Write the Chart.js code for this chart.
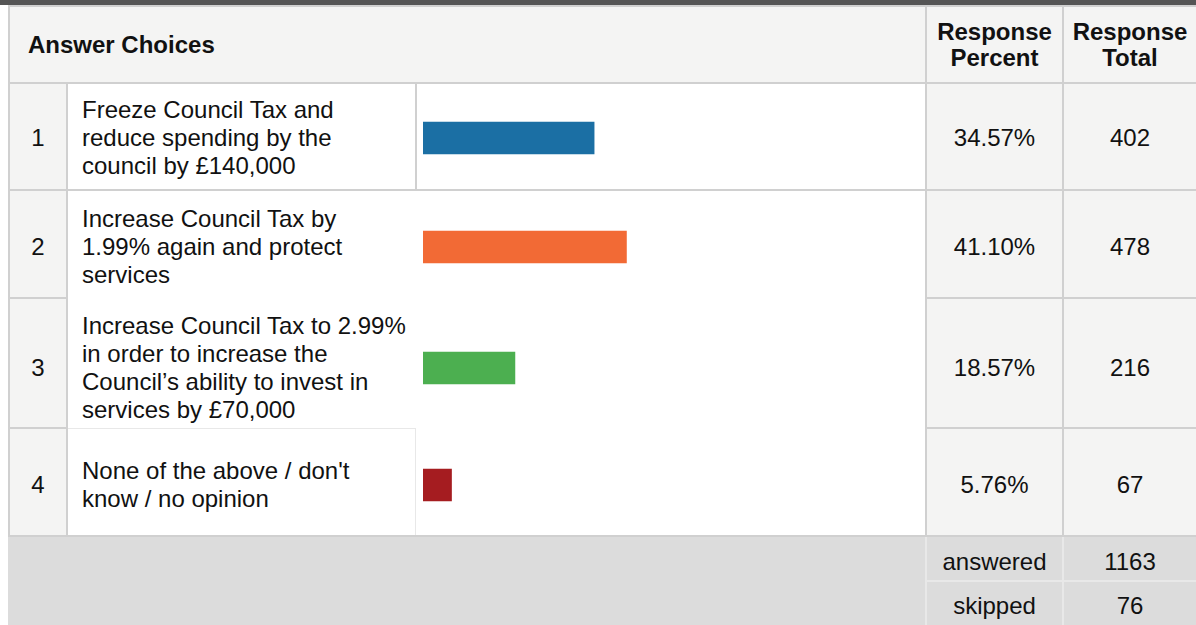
<!DOCTYPE html>
<html>
<head>
<meta charset="utf-8">
<script src="https://cdn.jsdelivr.net/npm/chart.js@4"></script>
<style>
  html,body{margin:0;padding:0;background:#fff;}
  #wrap{position:relative;width:1196px;height:625px;overflow:hidden;font-family:"Liberation Sans",Arial,Helvetica,sans-serif;color:#111;}
  .abs{position:absolute;}
  .cell{position:absolute;display:flex;align-items:center;box-sizing:border-box;}
  .ctr{justify-content:center;text-align:center;}
  .txt{font-size:24px;line-height:28px;white-space:pre;}
  .hdr{font-size:24px;line-height:26.5px;font-weight:bold;white-space:pre;}
</style>
</head>
<body>
<div id="wrap"></div>
<script>
// ---- data ----
const categories = [
  "Freeze Council Tax and\nreduce spending by the\ncouncil by £140,000",
  "Increase Council Tax by\n1.99% again and protect\nservices",
  "Increase Council Tax to 2.99%\nin order to increase the\nCouncil’s ability to invest in\nservices by £70,000",
  "None of the above / don't\nknow / no opinion"
];
const responsePercent = [34.57, 41.10, 18.57, 5.76];
const responseTotal = [402, 478, 216, 67];
const summaryLabels = ["answered", "skipped"];
const summaryValues = [1163, 76];
const headerLabels = ["Answer Choices", "Response\nPercent", "Response\nTotal"];

// ---- styles / layout ----
const barColors = ["#1b6fa4", "#f26a35", "#4caf50", "#a51c20"];
const rowBoxes = [
  {top:84,  h:105, pad:3},
  {top:191, h:106, pad:6},
  {top:299, h:128, pad:10},
  {top:429, h:106, pad:6}
];
const GRID = "#d0d0d0", LIGHT = "#e8e8e8", CELLBG = "#f4f4f3", FOOTBG = "#dcdcdc";

const wrap = document.getElementById('wrap');
function rect(x, y, w, h, c){
  const d = document.createElement('div');
  d.className = 'abs';
  d.style.cssText += `left:${x}px;top:${y}px;width:${w}px;height:${h}px;background:${c};`;
  wrap.appendChild(d); return d;
}
function cell(x, y, w, h, text, cls, center, padTop, padLeft){
  const d = document.createElement('div');
  d.className = 'cell ' + cls + (center ? ' ctr' : '');
  d.style.cssText += `left:${x}px;top:${y}px;width:${w}px;height:${h}px;padding-top:${padTop||0}px;padding-left:${padLeft||0}px;`;
  d.textContent = text;
  wrap.appendChild(d); return d;
}

// backgrounds
rect(10, 7, 1186, 75, CELLBG);
rect(10, 84, 56, 451, CELLBG);
rect(927, 84, 269, 451, CELLBG);
rect(8, 537, 1188, 88, FOOTBG);

// grid lines
rect(0, 0, 1196, 5, "#555555");
rect(8, 5, 1188, 2, GRID);
rect(8, 82, 1188, 2, GRID);
rect(8, 189, 1188, 2, GRID);
rect(8, 297, 60, 2, GRID); rect(925, 297, 271, 2, GRID);
rect(8, 427, 60, 2, GRID); rect(925, 427, 271, 2, GRID);
rect(68, 428, 348, 1, LIGHT);
rect(8, 535, 1188, 2, GRID);
rect(8, 5, 2, 532, GRID);
rect(66, 82, 2, 455, GRID);
rect(415, 84, 2, 105, GRID);
rect(415, 429, 1, 106, LIGHT);
rect(925, 5, 2, 532, GRID);
rect(1062, 5, 2, 532, GRID);
rect(925, 537, 2, 88, LIGHT);
rect(1062, 537, 2, 88, LIGHT);
rect(927, 580, 269, 2, LIGHT);

// header text
cell(28, 7, 500, 75, headerLabels[0], 'hdr', false, 1, 0);
cell(927, 7, 135, 75, headerLabels[1], 'hdr', true, 1, 0);
cell(1064, 7, 132, 75, headerLabels[2], 'hdr', true, 1, 0);

// rows
categories.forEach((cat, i) => {
  const b = rowBoxes[i];
  cell(10, b.top, 56, b.h, String(i + 1), 'txt', true, b.pad);
  cell(82, b.top, 340, b.h, cat, 'txt', false, b.pad);
  cell(927, b.top, 135, b.h, responsePercent[i].toFixed(2) + '%', 'txt', true, b.pad);
  cell(1064, b.top, 132, b.h, String(responseTotal[i]), 'txt', true, b.pad);

  const holder = document.createElement('div');
  holder.className = 'abs';
  holder.style.cssText += `left:415px;top:${b.top}px;width:511px;height:${b.h}px;`;
  const cv = document.createElement('canvas');
  holder.appendChild(cv);
  wrap.appendChild(holder);
  new Chart(cv, {
    type: 'bar',
    data: {
      labels: [String(i + 1)],
      datasets: [{
        data: [responsePercent[i]],
        backgroundColor: barColors[i],
        borderWidth: 0,
        barThickness: 32
      }]
    },
    options: {
      indexAxis: 'y',
      responsive: true,
      maintainAspectRatio: false,
      animation: false,
      events: [],
      layout: {padding: {left: 8, right: 8, top: b.pad, bottom: 0}},
      plugins: {legend: {display: false}, tooltip: {enabled: false}},
      scales: {
        x: {type: 'linear', min: 0, max: 100, display: false},
        y: {display: false}
      }
    }
  });
});

// footer
summaryLabels.forEach((lab, j) => {
  const top = j === 0 ? 537 : 582;
  cell(927, top, 135, 43, lab, 'txt', true, j === 0 ? 7 : 4);
  cell(1064, top, 132, 43, String(summaryValues[j]), 'txt', true, j === 0 ? 7 : 4);
});
</script>
</body>
</html>
